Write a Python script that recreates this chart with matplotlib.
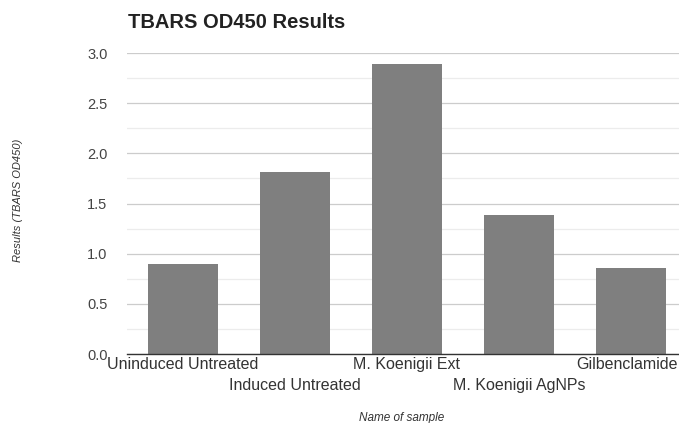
import matplotlib
matplotlib.use("Agg")
import matplotlib.pyplot as plt
from matplotlib.ticker import MultipleLocator

samples = ["Uninduced Untreated", "Induced Untreated", "M. Koenigii Ext",
           "M. Koenigii AgNPs", "Gilbenclamide"]
tbars_od450 = [0.90, 1.81, 2.89, 1.39, 0.86]
y_ticks = [0.0, 0.5, 1.0, 1.5, 2.0, 2.5, 3.0]

plt.rcParams["font.family"] = ["Liberation Sans", "DejaVu Sans"]

fig = plt.figure(figsize=(6.79, 4.23), dpi=100)
ax = fig.add_axes([127 / 679, 69 / 423, 1 - 127 / 679, 301 / 423])

x = list(range(len(samples)))
ax.bar(x, tbars_od450, width=0.62, color="#7f7f7f", zorder=3)

ax.set_xlim(-0.5, 4.43)
ax.set_ylim(0, 3.0)
ax.set_yticks(y_ticks)
ax.set_yticklabels([f"{v:.1f}" for v in y_ticks])
ax.yaxis.set_minor_locator(MultipleLocator(0.25))
ax.grid(axis="y", which="major", color="#cccccc", linewidth=0.9, zorder=0)
ax.grid(axis="y", which="minor", color="#ececec", linewidth=0.9, zorder=0)
ax.tick_params(axis="y", which="both", length=0, colors="#444444", labelsize=10.5, pad=14)
ax.tick_params(axis="x", length=0, colors="#333333", labelsize=10, pad=2)

ax.set_xticks(x)
ax.set_xticklabels([])
last = len(samples) - 1
for i, name in enumerate(samples):
    offset = 0.0 if i % 2 == 0 else -15.0
    if i == last:
        # keep the rightmost label inside the figure edge
        ax.annotate(name, xy=(1.0, 0), xycoords="axes fraction",
                    xytext=(-1, -2 + offset), textcoords="offset points",
                    ha="right", va="top", fontsize=11.5, color="#333333",
                    annotation_clip=False)
    else:
        ax.annotate(name, xy=(i, 0), xycoords=("data", "axes fraction"),
                    xytext=(0, -2 + offset), textcoords="offset points",
                    ha="center", va="top", fontsize=11.5, color="#333333",
                    annotation_clip=False)

for side in ["top", "right", "left"]:
    ax.spines[side].set_visible(False)
ax.spines["bottom"].set_color("#333333")
ax.spines["bottom"].set_linewidth(1.0)
ax.spines["bottom"].set_zorder(4)

fig.text(128 / 679, 1 - 22 / 423, "TBARS OD450 Results", fontsize=14.5,
         fontweight="bold", color="#222222", ha="left", va="center")
fig.text(18 / 679, 1 - 200 / 423, "Results (TBARS OD450)", rotation=90,
         fontsize=8, style="italic", color="#333333", ha="center", va="center")
fig.text(402 / 679, 1 - 418 / 423, "Name of sample", fontsize=8.5,
         style="italic", color="#333333", ha="center", va="center")

fig.savefig("out.png", dpi=100, facecolor="white")
